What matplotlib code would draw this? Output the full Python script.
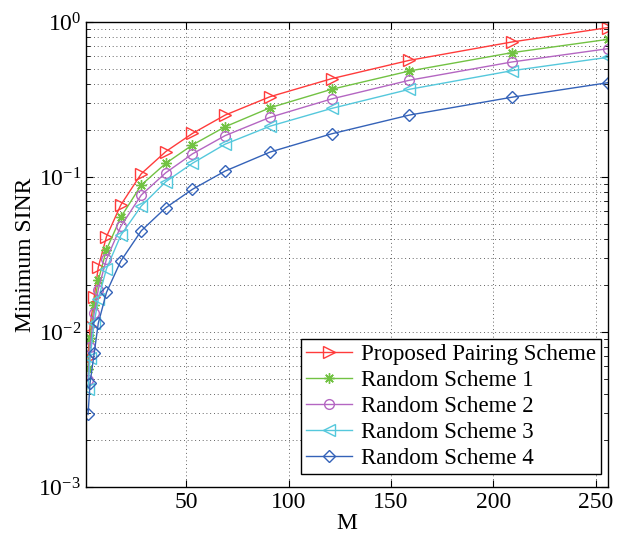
import matplotlib
matplotlib.use("Agg")
import matplotlib.pyplot as plt
from matplotlib.ticker import LogLocator, FixedLocator

plt.rcParams['font.family'] = ['Liberation Serif', 'DejaVu Serif']
plt.rcParams['mathtext.fontset'] = 'stix'

M = [2, 3, 5, 7, 11, 18, 28, 40, 53, 69, 91, 121, 159, 209, 256]
proposed = [0.0068, 0.011, 0.0168, 0.0262, 0.0412, 0.066, 0.105, 0.146, 0.191, 0.251, 0.33, 0.431, 0.566, 0.743, 0.92]
random1 = [0.0058, 0.0092, 0.0150, 0.0215, 0.0340, 0.055, 0.0888, 0.1226, 0.161, 0.211, 0.28, 0.368, 0.483, 0.634, 0.773]
random2 = [0.0049, 0.0080, 0.0133, 0.0188, 0.0295, 0.048, 0.0765, 0.1066, 0.141, 0.185, 0.243, 0.319, 0.421, 0.552, 0.673]
random3 = [0.0043, 0.0068, 0.0115, 0.0163, 0.0256, 0.042, 0.065, 0.0933, 0.1226, 0.163, 0.213, 0.277, 0.368, 0.485, 0.592]
random4 = [0.00294, 0.00471, 0.0073, 0.01138, 0.018, 0.0287, 0.045, 0.0634, 0.0833, 0.1093, 0.145, 0.19, 0.251, 0.327, 0.406]

labels = ['Proposed Pairing Scheme', 'Random Scheme 1', 'Random Scheme 2',
          'Random Scheme 3', 'Random Scheme 4']
colors = ['#ff3b3b', '#72c243', '#b466c2', '#55c8dc', '#3462b8']
markers = ['>', (8, 2, 0), 'o', '<', 'D']
msizes = [8.5, 7.5, 7, 8.5, 6]
series = [proposed, random1, random2, random3, random4]

fig = plt.figure(figsize=(6.30, 5.33), dpi=100)
ax = fig.add_axes([0.1365, 0.0863, 0.8285, 0.8724])

for y, c, mk, ms, lab in zip(series, colors, markers, msizes, labels):
    ax.plot(M, y, color=c, lw=1.0, marker=mk, ms=ms, mfc='none', mec=c,
            mew=1.0, label=lab)

ax.set_yscale('log')
ax.set_xlim(1, 256)
ax.set_ylim(1e-3, 1e0)
ax.xaxis.set_major_locator(FixedLocator([50, 100, 150, 200, 250]))
ax.yaxis.set_major_locator(LogLocator(base=10, numticks=10))
ax.yaxis.set_minor_locator(LogLocator(base=10, subs=range(2, 10), numticks=10))

gridkw = dict(color='#303030', linestyle=(0, (1, 3.5)), linewidth=0.6)
ax.grid(True, which='major', axis='both', **gridkw)
ax.grid(True, which='minor', axis='y', **gridkw)

ax.tick_params(which='both', direction='in', top=True, right=True, labelsize=17)
ax.tick_params(which='major', length=5, width=0.8)
ax.tick_params(which='minor', length=3, width=0.6)
for s in ax.spines.values():
    s.set_linewidth(1.0)

ax.set_xlabel('M', fontsize=17, labelpad=0)
ax.set_ylabel('Minimum SINR', fontsize=17, labelpad=2)

leg = ax.legend(loc='lower right', bbox_to_anchor=(0.987, 0.027), fontsize=16.5,
                frameon=True, fancybox=False, edgecolor='black', framealpha=1,
                handlelength=2.0, handletextpad=0.4, borderpad=0.22,
                labelspacing=0.22, borderaxespad=0)
leg.get_frame().set_linewidth(1.0)

fig.savefig('out.png', dpi=100)
